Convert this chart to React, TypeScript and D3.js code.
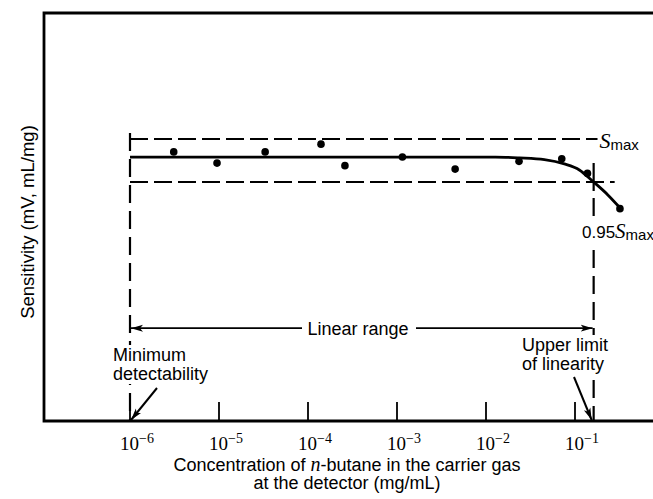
import React, { useEffect, useRef } from "react";
import * as d3 from "d3";

// measured points: concentration (mg/mL) and sensitivity relative to S_max
const pointConc = [3.1e-6, 9.5e-6, 3.3e-5, 1.4e-4, 2.6e-4, 1.15e-3, 4.5e-3, 2.35e-2, 7.1e-2, 0.138, 0.32];
const pointSens = [0.985, 0.972, 0.985, 0.994, 0.969, 0.979, 0.965, 0.974, 0.977, 0.96, 0.919];

// fitted response curve
const curveConc = [1e-6, 1e-4, 0.0128, 0.0237, 0.0453, 0.076, 0.112, 0.162, 0.234, 0.32];
const curveSens = [0.979, 0.979, 0.979, 0.978, 0.976, 0.971, 0.964, 0.95, 0.935, 0.92];

const tickExponents = [-6, -5, -4, -3, -2, -1];

// reference levels / limits
const sMax = 1;
const sLower = 0.95;
const minDetect = 1e-6;
const upperLimit = 0.162;
const sMaxEnd = 0.179;
const sLowerEnd = 0.279;
const linearRangeLevel = 0.78;

const W = 653;
const H = 499;
const frame = { left: 44, top: 13, right: 653, bottom: 421 };
const SANS = "'Liberation Sans', Arial, sans-serif";
const SERIF = "'Liberation Serif', 'Times New Roman', serif";

export default function App() {
  const ref = useRef<SVGSVGElement>(null);

  useEffect(() => {
    const svg = d3.select(ref.current);
    svg.selectAll("*").remove();

    const x = d3.scaleLog().domain([1e-6, 1e-1]).range([130, 575]);
    const y = d3.scaleLinear().domain([sLower, sMax]).range([182, 139]);

    const defs = svg.append("defs");
    defs
      .append("marker")
      .attr("id", "arrow")
      .attr("viewBox", "0 0 12 8")
      .attr("refX", 12)
      .attr("refY", 4)
      .attr("markerWidth", 12)
      .attr("markerHeight", 8)
      .attr("markerUnits", "userSpaceOnUse")
      .attr("orient", "auto-start-reverse")
      .append("path")
      .attr("d", "M0,0.5 L12,4 L0,7.5 L3,4 Z")
      .attr("fill", "#000");

    // white box behind a label so lines underneath are broken
    const knockout = (t: any, pad = 2) => {
      const b = (t.node() as SVGTextElement).getBBox();
      svg
        .insert("rect", () => t.node())
        .attr("x", b.x - pad)
        .attr("y", b.y)
        .attr("width", b.width + pad * 2)
        .attr("height", b.height)
        .attr("fill", "#fff");
    };

    // frame: left, top, bottom axis
    svg
      .append("path")
      .attr(
        "d",
        `M${frame.right},${frame.top} L${frame.left},${frame.top} L${frame.left},${frame.bottom} L${frame.right},${frame.bottom}`
      )
      .attr("fill", "none")
      .attr("stroke", "#000")
      .attr("stroke-width", 2.8);

    // ticks on the bottom axis (pointing up)
    const ticks = svg.append("g");
    tickExponents.forEach((e) => {
      const tx = x(Math.pow(10, e));
      ticks
        .append("line")
        .attr("x1", tx)
        .attr("x2", tx)
        .attr("y1", frame.bottom)
        .attr("y2", frame.bottom - 19)
        .attr("stroke", "#000")
        .attr("stroke-width", 1.8);
      const t = ticks
        .append("text")
        .attr("x", tx - 10)
        .attr("y", 450)
        .attr("font-family", SERIF)
        .attr("font-size", 19);
      t.append("tspan").text("10");
      t.append("tspan")
        .attr("dy", -7)
        .attr("font-size", 14)
        .text("\u2212" + Math.abs(e));
    });

    // dashed reference lines
    const dashed = (x1: number, y1: number, x2: number, y2: number, dash = "18,6") =>
      svg
        .append("line")
        .attr("x1", x1)
        .attr("y1", y1)
        .attr("x2", x2)
        .attr("y2", y2)
        .attr("stroke", "#000")
        .attr("stroke-width", 2.2)
        .attr("stroke-dasharray", dash);

    dashed(x(minDetect), y(sMax), x(sMaxEnd), y(sMax));
    dashed(x(minDetect), y(sLower), x(sLowerEnd), y(sLower));
    dashed(x(minDetect), y(sMax) - 6, x(minDetect), frame.bottom, "18,8");
    dashed(x(upperLimit), y(sLower) + 16, x(upperLimit), frame.bottom, "18,8");
    // crosshair at 0.95 S_max
    svg
      .append("line")
      .attr("x1", x(upperLimit))
      .attr("x2", x(upperLimit))
      .attr("y1", y(sLower) - 19)
      .attr("y2", y(sLower) + 9)
      .attr("stroke", "#000")
      .attr("stroke-width", 2.2);

    // response curve
    const pts = curveConc.map((c, i) => [x(c), y(curveSens[i])] as [number, number]);
    svg
      .append("path")
      .attr("d", d3.line().curve(d3.curveMonotoneX)(pts))
      .attr("fill", "none")
      .attr("stroke", "#000")
      .attr("stroke-width", 2.8);

    // data points
    svg
      .append("g")
      .selectAll("circle")
      .data(pointConc)
      .join("circle")
      .attr("cx", (d) => x(d))
      .attr("cy", (d, i) => y(pointSens[i]))
      .attr("r", 3.8)
      .attr("fill", "#000");

    // S_max labels
    const smax = svg
      .append("text")
      .attr("x", x(sMaxEnd) + 2)
      .attr("y", 148);
    smax.append("tspan").attr("font-family", SERIF).attr("font-style", "italic").attr("font-size", 22).text("S");
    smax.append("tspan").attr("font-family", SANS).attr("font-size", 15).attr("dy", 2).text("max");

    const s95 = svg.append("text").attr("x", 582).attr("y", 238);
    s95.append("tspan").attr("font-family", SANS).attr("font-size", 17).text("0.95");
    s95.append("tspan").attr("font-family", SERIF).attr("font-style", "italic").attr("font-size", 21).text("S");
    s95.append("tspan").attr("font-family", SANS).attr("font-size", 15).attr("dy", 2).text("max");
    knockout(s95, 1);

    // linear range arrow
    const ly = y(linearRangeLevel);
    const lx1 = x(minDetect);
    const lx2 = x(upperLimit);
    const lmid = 358;
    svg
      .append("line")
      .attr("x1", lmid - 56)
      .attr("x2", lx1 + 1)
      .attr("y1", ly)
      .attr("y2", ly)
      .attr("stroke", "#000")
      .attr("stroke-width", 1.8)
      .attr("marker-end", "url(#arrow)");
    svg
      .append("line")
      .attr("x1", lmid + 58)
      .attr("x2", lx2 - 1)
      .attr("y1", ly)
      .attr("y2", ly)
      .attr("stroke", "#000")
      .attr("stroke-width", 1.8)
      .attr("marker-end", "url(#arrow)");
    svg
      .append("text")
      .attr("x", lmid)
      .attr("y", ly + 7)
      .attr("text-anchor", "middle")
      .attr("font-family", SANS)
      .attr("font-size", 18)
      .text("Linear range");

    // annotations
    const note = (lines: string[], tx: number, ty: number) => {
      const t = svg.append("text").attr("font-family", SANS).attr("font-size", 18);
      lines.forEach((l, i) => t.append("tspan").attr("x", tx).attr("y", ty + i * 19).text(l));
      knockout(t, 3);
    };
    note(["Minimum", "detectability"], 113, 361);
    note(["Upper limit", "of linearity"], 522, 351);

    const pointer = (x1: number, y1: number, x2: number, y2: number) =>
      svg
        .append("line")
        .attr("x1", x1)
        .attr("y1", y1)
        .attr("x2", x2)
        .attr("y2", y2)
        .attr("stroke", "#000")
        .attr("stroke-width", 2)
        .attr("marker-end", "url(#arrow)");
    pointer(157, 388, x(minDetect) + 1, frame.bottom - 1);
    pointer(574, 377, x(upperLimit) - 2, frame.bottom - 1);

    // axis titles
    const xt = svg
      .append("text")
      .attr("font-family", SANS)
      .attr("font-size", 18)
      .attr("text-anchor", "middle");
    const l1 = xt.append("tspan").attr("x", 347).attr("y", 471);
    l1.append("tspan").text("Concentration of ");
    l1.append("tspan").attr("font-family", SERIF).attr("font-style", "italic").attr("font-size", 20).text("n");
    l1.append("tspan").text("-butane in the carrier gas");
    xt.append("tspan").attr("x", 347).attr("y", 489).text("at the detector (mg/mL)");

    svg
      .append("text")
      .attr("transform", "translate(34,222) rotate(-90)")
      .attr("text-anchor", "middle")
      .attr("font-family", SANS)
      .attr("font-size", 18.5)
      .text("Sensitivity (mV, mL/mg)");
  }, []);

  return (
    <div style={{ position: "absolute", left: 0, top: 0 }}>
      <svg ref={ref} width={W} height={H} style={{ display: "block", background: "#fff" }} />
    </div>
  );
}
